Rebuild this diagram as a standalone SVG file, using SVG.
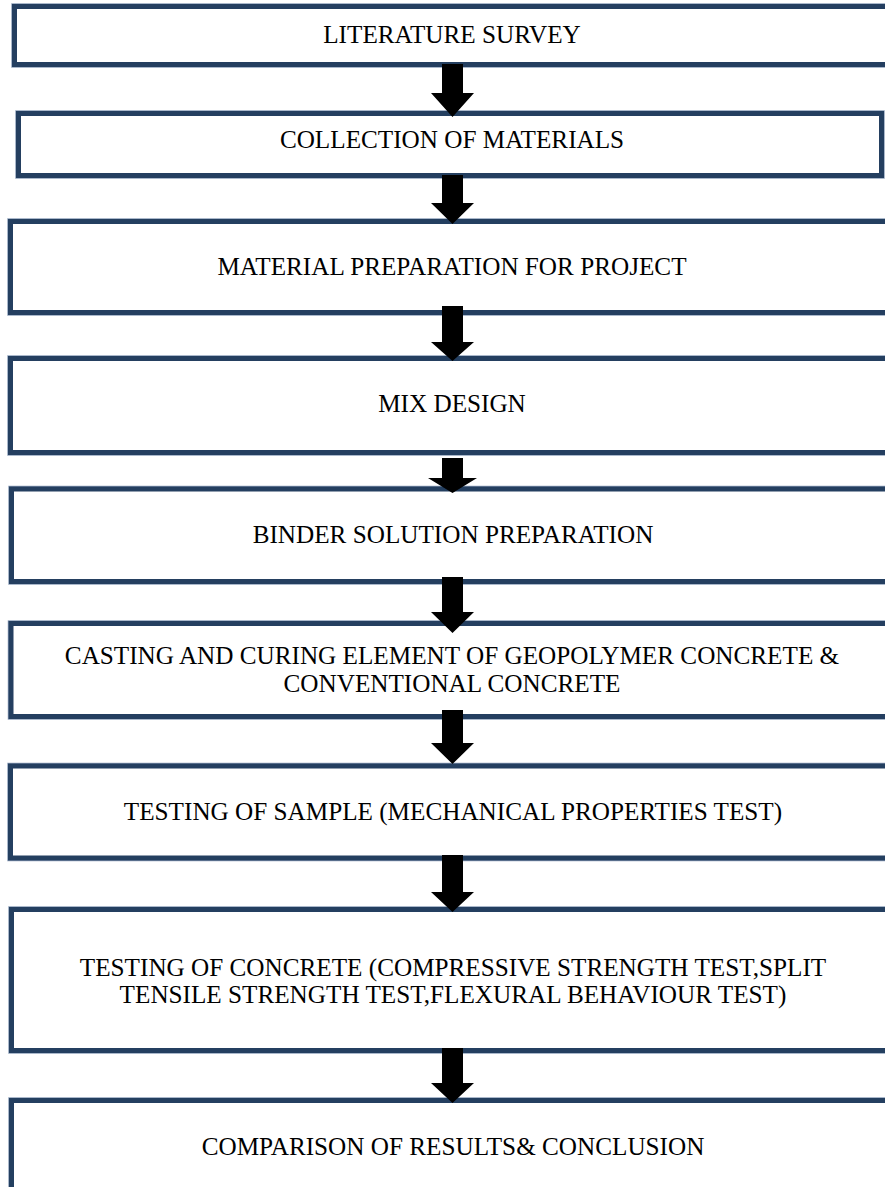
<svg xmlns="http://www.w3.org/2000/svg" width="885" height="1187" viewBox="0 0 885 1187">
<style>
.box{fill:#ffffff;stroke:#243f60;stroke-width:5}
.edge{fill:none;stroke:#8ea1ba;stroke-width:6.5}
.lbl{font-family:"Liberation Serif","Times New Roman",serif;font-size:25.2px;fill:#000;text-anchor:middle}
.arr{fill:#000}
</style>
<rect width="885" height="1187" fill="#ffffff"/>
<g id="n1"><rect class="edge" x="14.5" y="6.5" width="900" height="58"/><rect class="box" x="14.5" y="6.5" width="900" height="58"/><text class="lbl" x="452" y="43">LITERATURE SURVEY</text></g>
<g id="n2"><rect class="edge" x="18.5" y="113.5" width="863" height="62"/><rect class="box" x="18.5" y="113.5" width="863" height="62"/><text class="lbl" x="452" y="148">COLLECTION OF MATERIALS</text></g>
<g id="n3"><rect class="edge" x="10.5" y="221.5" width="900" height="91"/><rect class="box" x="10.5" y="221.5" width="900" height="91"/><text class="lbl" x="452" y="275">MATERIAL PREPARATION FOR PROJECT</text></g>
<g id="n4"><rect class="edge" x="10.5" y="358.5" width="900" height="94"/><rect class="box" x="10.5" y="358.5" width="900" height="94"/><text class="lbl" x="452" y="412">MIX DESIGN</text></g>
<g id="n5"><rect class="edge" x="11.5" y="489" width="900" height="92.5"/><rect class="box" x="11.5" y="489" width="900" height="92.5"/><text class="lbl" x="453" y="543">BINDER SOLUTION PREPARATION</text></g>
<g id="n6"><rect class="edge" x="11" y="623.5" width="900" height="93"/><rect class="box" x="11" y="623.5" width="900" height="93"/><text class="lbl" x="452" y="664">CASTING AND CURING ELEMENT OF GEOPOLYMER CONCRETE &amp;</text><text class="lbl" x="452" y="692">CONVENTIONAL CONCRETE</text></g>
<g id="n7"><rect class="edge" x="10.5" y="766" width="900" height="92"/><rect class="box" x="10.5" y="766" width="900" height="92"/><text class="lbl" x="453" y="820">TESTING OF SAMPLE (MECHANICAL PROPERTIES TEST)</text></g>
<g id="n8"><rect class="edge" x="11.5" y="909.5" width="900" height="141"/><rect class="box" x="11.5" y="909.5" width="900" height="141"/><text class="lbl" x="453" y="976">TESTING OF CONCRETE (COMPRESSIVE STRENGTH TEST,SPLIT</text><text class="lbl" x="453" y="1003">TENSILE STRENGTH TEST,FLEXURAL BEHAVIOUR TEST)</text></g>
<g id="n9"><rect class="edge" x="11.5" y="1100.5" width="900" height="120"/><rect class="box" x="11.5" y="1100.5" width="900" height="120"/><text class="lbl" x="453" y="1155">COMPARISON OF RESULTS&amp; CONCLUSION</text></g>
<g id="connectors">
<polygon class="arr" points="442,64 463,64 463,93 474,93 452.5,117 431,93 442,93"/>
<polygon class="arr" points="442,175 463,175 463,203 474,203 452.5,224 431,203 442,203"/>
<polygon class="arr" points="442,306 463,306 463,342 474,342 452.5,361 431,342 442,342"/>
<polygon class="arr" points="442,458 463,458 463,478 477,478 452.5,493 428,478 442,478"/>
<polygon class="arr" points="442,577 463,577 463,612 474,612 452.5,633 431,612 442,612"/>
<polygon class="arr" points="442,710 463,710 463,743 474,743 452.5,764 431,743 442,743"/>
<polygon class="arr" points="442,855 463,855 463,892 474,892 452.5,912 431,892 442,892"/>
<polygon class="arr" points="442,1048 463,1048 463,1083 474,1083 452.5,1103 431,1083 442,1083"/>
</g>
</svg>
